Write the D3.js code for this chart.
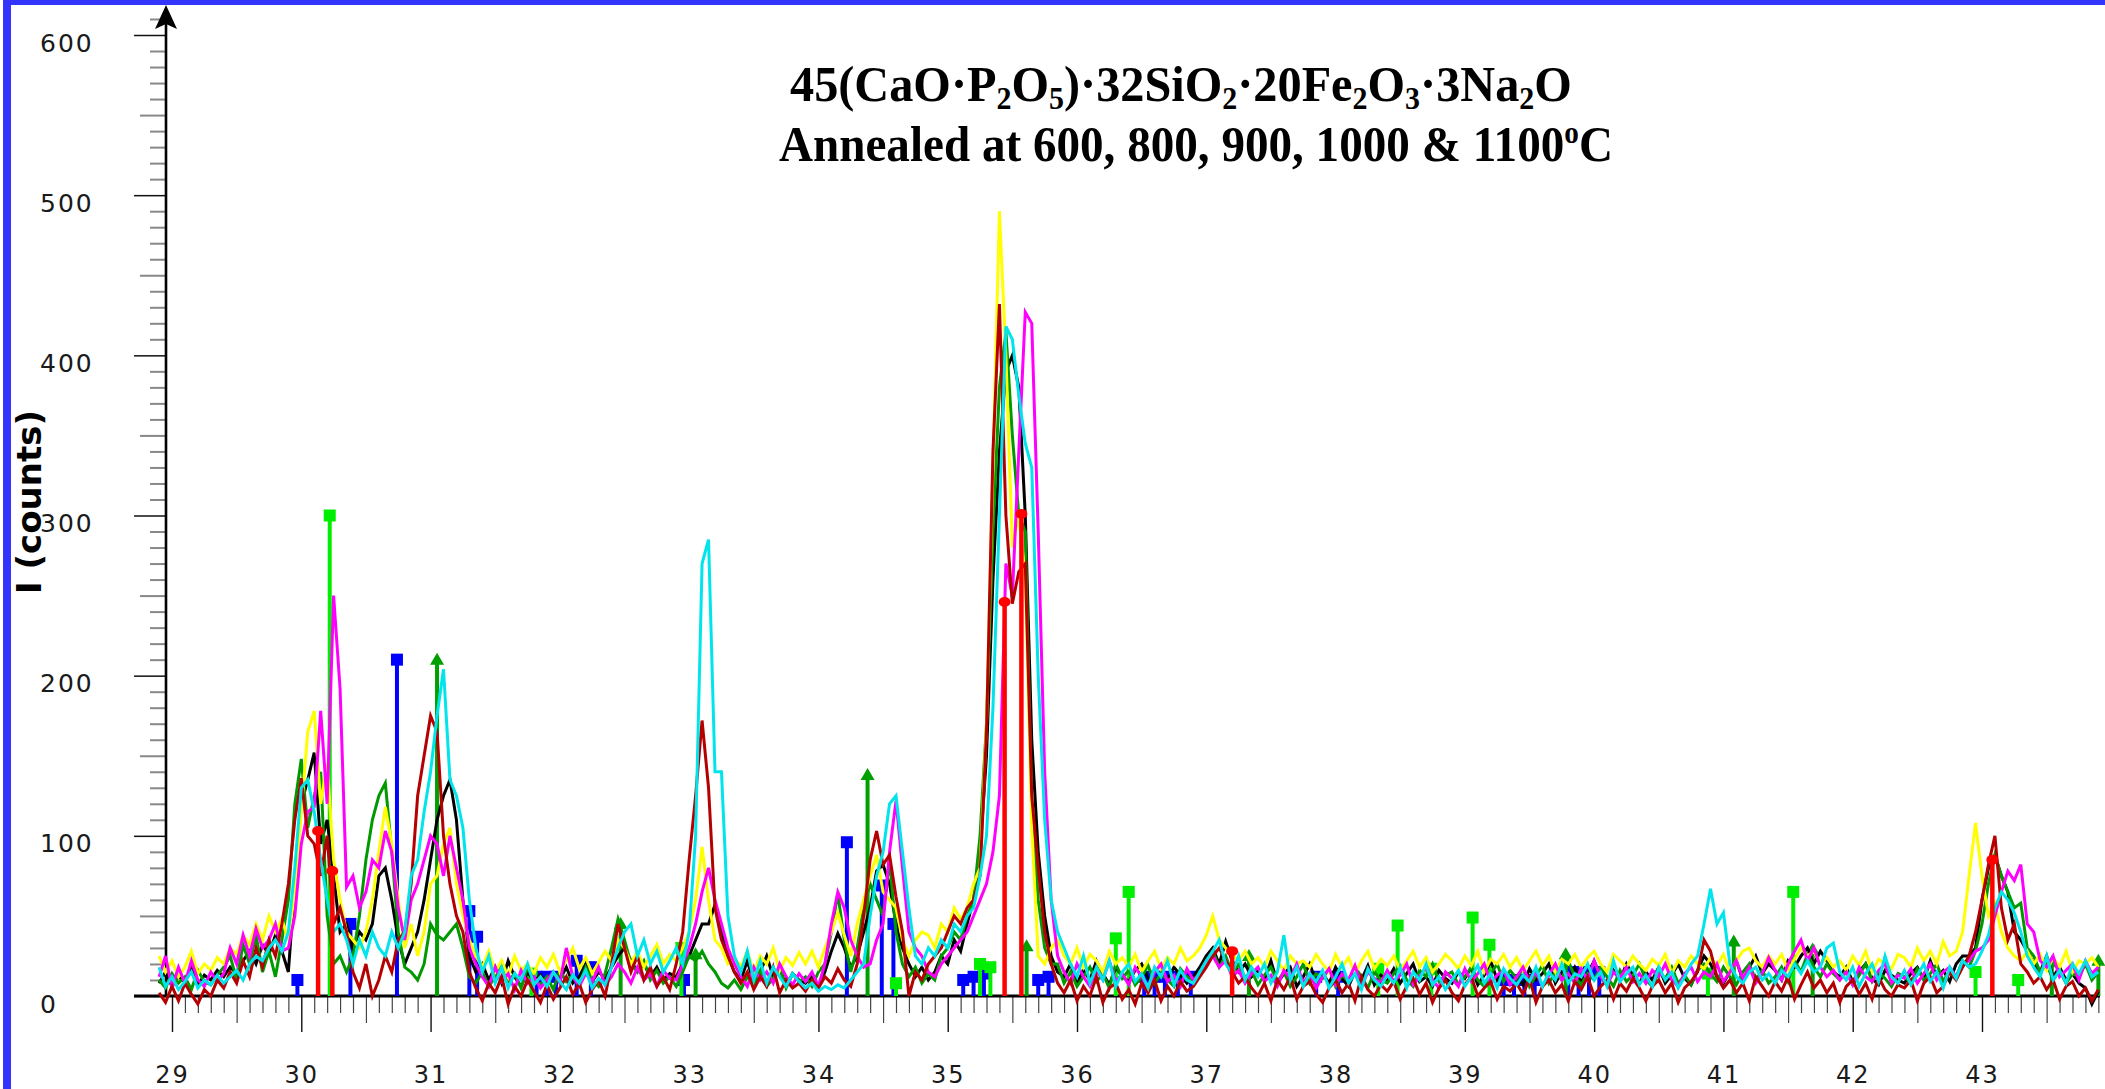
<!DOCTYPE html>
<html><head><meta charset="utf-8">
<script src="https://cdn.jsdelivr.net/npm/d3@7"></script>
<style>html,body{margin:0;padding:0;background:#fff;overflow:hidden}</style>
</head><body>
<svg id="chart" width="2105" height="1089"></svg>
<script>
// ---------- data ----------
const thetaStart = 28.90;   // 2-theta of first point
const thetaStep = 0.05;     // step between points
const xTickLabels = [29,30,31,32,33,34,35,36,37,38,39,40,41,42,43];
const yTickLabels = [0,100,200,300,400,500,600];

const black = [
8,15,6,12,9,18,7,13,10,16,
12,18,14,22,28,20,32,26,38,28,
15,70,120,135,152,95,110,75,40,45,
30,40,35,45,75,80,60,35,20,30,
40,60,85,110,125,135,110,60,25,15,
20,10,18,8,22,12,6,15,9,13,
7,14,10,18,8,12,20,9,15,11,
18,25,30,22,15,20,12,18,10,14,
12,20,25,35,45,45,57,40,25,15,
10,22,8,15,25,12,18,6,14,10,
8,12,6,15,28,39,30,18,25,40,
55,78,82,70,45,30,20,12,18,10,
15,25,20,35,28,45,60,90,150,260,
340,390,400,380,300,160,90,50,25,15,
12,20,8,16,10,22,14,7,18,12,
9,16,20,11,7,15,10,18,13,8,
12,18,25,30,20,34,22,15,20,12,
16,10,22,8,14,18,6,12,20,9,
14,8,18,11,6,15,10,19,7,13,
10,17,8,14,20,9,12,6,16,11,
8,15,11,18,7,13,22,10,16,9,
12,7,17,10,14,20,8,15,11,18,
9,14,22,12,7,16,10,20,13,8,
15,10,18,8,13,20,11,7,16,25,
20,12,8,15,22,10,18,25,14,20,
16,10,22,18,25,30,20,28,22,15,
12,18,9,15,20,11,7,16,13,10,
8,14,18,10,22,12,16,9,20,25,
25,30,60,80,88,75,65,40,35,28,
20,15,25,12,18,10,14,8,5,-5,
3];

const green = [
10,5,14,8,12,4,16,9,7,13,
18,25,10,32,20,38,15,28,12,35,
60,120,148,105,125,140,50,20,25,15,
25,50,85,110,125,133,90,40,18,15,
10,20,45,38,35,40,45,30,12,8,
15,6,12,20,9,14,5,18,10,7,
12,4,16,9,13,7,18,10,6,14,
30,48,35,20,15,22,10,16,8,12,
6,15,25,22,28,20,15,8,5,10,
4,12,8,16,6,11,18,5,14,9,
12,6,15,20,40,64,35,15,30,55,
70,60,50,85,40,20,12,18,8,14,
10,25,30,40,35,50,60,100,170,290,
380,415,350,300,290,120,60,30,20,20,
8,15,6,12,18,9,14,5,20,11,
16,7,12,19,8,14,10,6,17,12,
9,15,22,28,18,25,14,20,10,16,
7,13,18,9,15,6,12,20,8,14,
11,17,6,13,9,18,12,5,15,10,
8,14,19,10,6,16,12,20,9,13,
15,7,12,18,10,6,14,20,9,16,
11,17,6,13,19,8,15,10,22,12,
7,14,10,18,12,6,16,9,13,20,
10,6,15,11,18,8,13,7,16,20,
14,9,18,12,7,15,20,10,16,8,
12,18,9,22,15,26,18,12,20,14,
10,16,7,13,20,9,15,11,6,14,
12,8,17,10,14,20,9,16,12,22,
18,28,45,70,88,75,65,55,58,30,
25,15,20,10,16,8,14,12,20,10,
15];

const yellow = [
25,15,22,12,18,28,14,20,16,24,
20,30,26,38,32,45,35,50,40,48,
35,65,115,165,178,120,145,85,60,40,
35,30,40,60,90,118,95,60,30,45,
25,40,70,75,95,105,70,50,35,25,
18,28,15,22,12,25,16,20,14,24,
18,26,15,22,30,17,24,14,21,28,
22,35,30,20,28,18,25,32,20,26,
22,30,40,60,93,60,35,30,20,24,
18,28,15,25,20,30,16,24,19,27,
20,28,18,30,40,52,38,25,45,60,
75,88,65,60,55,35,25,35,40,38,
30,45,40,55,48,55,70,80,170,330,
490,400,280,300,260,105,25,20,30,35,
25,20,30,18,26,22,15,28,20,24,
18,26,15,22,28,17,24,20,30,22,
25,30,38,50,35,30,26,22,28,20,
24,18,28,22,16,25,20,22,18,26,
20,15,26,18,24,14,22,28,17,23,
19,25,16,22,28,18,24,15,20,26,
22,17,25,19,28,15,23,20,26,18,
24,16,22,28,19,25,15,23,20,26,
18,24,28,20,15,26,22,18,25,20,
16,23,19,26,14,22,18,25,20,17,
24,19,26,15,22,28,30,22,18,25,
20,26,16,23,30,25,28,20,24,18,
22,16,25,19,28,15,23,20,17,26,
24,18,30,22,28,20,34,25,28,40,
75,108,75,50,58,40,30,25,22,28,
20,26,16,24,18,28,15,22,20,24,
18];

const magenta = [
12,25,5,18,8,22,10,6,15,9,
14,30,20,38,25,42,30,35,45,28,
30,50,95,115,118,178,120,250,192,68,
75,55,65,85,80,103,90,55,35,60,
70,85,100,95,75,100,80,60,30,20,
12,6,18,9,14,4,16,8,12,5,
10,15,8,30,12,6,14,9,18,7,
12,20,15,8,18,10,14,6,16,11,
10,20,30,45,65,80,60,45,30,20,
12,6,18,10,15,8,20,12,7,14,
9,15,6,20,45,65,55,35,25,18,
20,35,45,90,122,80,40,30,25,15,
12,20,25,30,35,40,50,60,70,90,
125,270,250,340,427,420,290,140,60,25,
15,8,20,12,6,16,10,22,9,14,
7,18,12,5,15,20,9,13,6,17,
10,14,20,25,18,22,12,16,8,14,
18,9,13,6,16,11,20,8,14,5,
12,17,7,14,10,19,6,15,11,8,
16,9,13,20,7,12,18,10,5,15,
11,6,17,9,14,20,8,13,16,7,
12,18,9,15,6,13,20,10,14,8,
17,10,22,12,7,15,11,18,9,14,
8,16,12,20,10,6,14,18,9,15,
12,20,9,15,22,11,18,8,14,24,
16,10,20,28,35,22,30,18,12,16,
10,15,7,18,12,9,16,20,8,13,
11,17,8,14,20,10,15,18,12,20,
22,28,30,35,50,65,78,72,82,45,
40,22,18,25,12,16,20,10,22,14,
18];

const darkRed = [
2,-4,6,-3,8,1,-5,4,0,10,
5,15,8,22,12,30,18,35,25,45,
70,110,136,100,95,75,100,45,55,40,
15,5,20,0,10,25,15,35,40,70,
125,150,175,165,100,70,50,40,15,5,
-3,8,2,12,-5,6,0,10,3,-4,
7,-2,5,12,1,8,-4,4,10,0,
20,45,30,15,25,10,18,6,12,4,
20,40,85,125,172,130,55,35,25,15,
8,15,4,12,6,18,2,10,5,8,
3,10,5,12,8,17,10,6,20,50,
85,103,82,88,62,40,0,15,10,20,
25,30,40,50,45,55,60,75,165,340,
432,300,245,265,270,125,80,40,20,8,
2,10,-3,6,0,12,-4,5,8,-2,
4,-5,8,2,10,-3,6,0,9,3,
6,12,18,25,30,22,15,8,12,5,
0,8,-3,10,4,12,-2,6,9,1,
-4,5,10,2,8,-3,12,4,0,7,
3,9,-2,6,11,1,8,-4,5,10,
2,-3,7,12,0,5,9,-2,6,3,
8,1,11,-4,6,10,2,7,-3,9,
4,12,0,6,10,-2,8,3,11,5,
-3,6,10,2,8,-4,5,9,15,35,
28,12,5,10,2,8,-3,12,6,0,
9,3,12,-2,7,15,5,10,2,8,
-4,6,10,1,8,-2,12,4,0,7,
5,10,-3,8,12,2,6,15,10,18,
25,40,60,82,100,55,35,45,20,15,
8,12,4,10,-2,6,9,0,5,-3,
4];

const cyan = [
18,6,12,4,9,15,5,10,7,13,
8,12,16,10,20,25,22,30,35,28,
40,80,130,135,115,85,60,40,45,35,
20,35,25,40,30,25,40,30,40,75,
85,115,140,175,204,135,125,105,60,30,
15,25,8,18,5,14,10,20,7,12,
6,15,9,4,13,8,16,5,11,7,
18,30,40,45,25,35,20,28,15,22,
30,20,40,100,270,285,140,140,50,25,
15,28,10,22,8,18,12,6,14,9,
5,8,3,6,4,7,5,10,15,20,
50,75,90,120,125,90,55,25,20,30,
25,35,30,45,40,50,55,75,100,180,
300,418,410,375,345,330,200,110,60,40,
30,20,12,25,8,18,10,22,6,15,
20,9,14,5,18,12,22,7,16,10,
8,15,22,28,35,20,14,25,10,18,
12,20,8,15,38,10,18,6,14,9,
16,5,12,20,8,14,4,17,10,6,
13,8,18,5,15,10,20,7,12,4,
10,16,6,12,19,8,14,5,17,11,
7,13,9,18,6,15,10,20,8,14,
12,20,10,15,6,22,9,14,18,7,
13,6,18,10,15,5,12,20,25,45,
67,45,52,20,12,8,15,18,10,14,
8,16,12,20,14,22,15,18,30,33,
15,10,18,6,14,20,9,25,12,8,
16,7,13,20,9,15,5,18,11,22,
18,20,28,38,55,65,60,52,40,25,
18,12,25,10,16,8,20,14,22,12,
15];

// reference patterns (stick positions / intensities)
const redPos = [30.13, 30.24, 35.44, 35.57, 37.20, 43.08];
const redInt = [103, 78, 246, 301, 28, 85];
const limePos = [30.22, 31.78, 32.94, 34.60, 35.25, 35.33, 36.30, 36.40, 38.33, 38.48, 38.74, 39.06, 39.19, 40.88, 41.54, 42.95, 43.28];
const limeInt = [300, 14, 30, 8, 20, 18, 36, 65, 17, 44, 17, 49, 32, 14, 65, 15, 10];
const bluePos = [29.97, 30.38, 30.74, 31.30, 31.36, 31.82, 31.90, 31.97, 32.13, 32.24, 32.96, 34.22, 34.49, 34.58, 35.12, 35.20, 35.28, 35.70, 35.78, 36.52, 36.60, 36.68, 36.78, 36.88, 37.85, 38.02, 39.30, 39.38, 39.46, 39.54, 39.80, 39.88, 39.96, 40.04];
const blueInt = [10, 45, 210, 53, 37, 12, 12, 12, 22, 18, 10, 96, 69, 45, 10, 12, 14, 10, 12, 12, 12, 12, 12, 12, 12, 12, 10, 10, 10, 10, 15, 15, 15, 15];
const olivePos = [31.05, 32.47, 33.05, 34.38, 35.61, 37.33, 39.78, 41.08, 41.69, 43.54, 43.90];
const oliveInt = [210, 45, 26, 138, 31, 25, 26, 34, 29, 21, 22];

// ---------- drawing ----------
const W = 2105, H = 1089;
const svg = d3.select('#chart');
svg.append('rect').attr('width', W).attr('height', H).attr('fill', '#fff');

const x = d3.scaleLinear().domain([29, 43]).range([172, 1982]);
const y = d3.scaleLinear().domain([0, 600]).range([996, 35]);

// blue frame
svg.append('rect').attr('x', 3).attr('y', 0).attr('width', 8).attr('height', H).attr('fill', '#3434ff');
svg.append('rect').attr('x', 3).attr('y', 0).attr('width', W - 3).attr('height', 5).attr('fill', '#3434ff');

// ---- X axis ticks ----
const allX = d3.range(290, 440).map(d => d / 10);
const xMinor = allX.filter(d => Math.round(d * 10) % 5 !== 0);
const xHalf = allX.filter(d => Math.round(d * 10) % 10 === 5);
const gx = svg.append('g').attr('transform', 'translate(0,996)');
function styleAxis(g, color, width) {
  g.select('.domain').remove();
  g.selectAll('.tick line').attr('stroke', color).attr('stroke-width', width);
}
gx.append('g').call(d3.axisBottom(x).tickValues(xMinor).tickSize(17).tickFormat('')).call(g => styleAxis(g, '#444', 1.2));
gx.append('g').call(d3.axisBottom(x).tickValues(xHalf).tickSize(27).tickFormat('')).call(g => styleAxis(g, '#444', 1.2));
const gxMaj = gx.append('g').call(d3.axisBottom(x).tickValues(xTickLabels).tickSize(36).tickFormat(d3.format('d')))
  .call(g => styleAxis(g, '#111', 1.4));
gxMaj.selectAll('.tick text').attr('y', 87).attr('dy', 0)
  .attr('font-family', '"DejaVu Sans", Verdana, sans-serif').attr('font-size', 24)
  .attr('letter-spacing', 2).attr('fill', '#1a1a1a');

// ---- Y axis ticks ----
const allY = d3.range(10, 620, 10);
const yMinor = allY.filter(d => d % 50 !== 0);
const yHalf = allY.filter(d => d % 100 === 50);
const gy = svg.append('g').attr('transform', 'translate(166,0)');
gy.append('g').call(d3.axisLeft(y).tickValues(yMinor).tickSize(16).tickFormat('')).call(g => styleAxis(g, '#888', 2));
gy.append('g').call(d3.axisLeft(y).tickValues(yHalf).tickSize(26).tickFormat('')).call(g => styleAxis(g, '#888', 2));
const gyMaj = gy.append('g').call(d3.axisLeft(y).tickValues(yTickLabels).tickSize(32).tickFormat(d3.format('d')))
  .call(g => styleAxis(g, '#111', 1.5));
gyMaj.selectAll('.tick text').attr('x', -126).attr('dy', 16).attr('text-anchor', 'start')
  .attr('font-family', '"DejaVu Sans", Verdana, sans-serif').attr('font-size', 25)
  .attr('letter-spacing', 2).attr('fill', '#1a1a1a');

// baseline and y axis line
svg.append('line').attr('x1', 134).attr('x2', 2100).attr('y1', y(0)).attr('y2', y(0))
  .attr('stroke', '#000').attr('stroke-width', 3);
svg.append('line').attr('x1', 166).attr('x2', 166).attr('y1', y(0) + 1).attr('y2', 20)
  .attr('stroke', '#000').attr('stroke-width', 2.6);
svg.append('path').attr('d', 'M166,5 L177,29 L166,24 L155,29 Z').attr('fill', '#000');

// ---- stick patterns (under curves) ----
function sticks(pos, val, color, shape, width) {
  const g = svg.append('g');
  pos.forEach((p, i) => {
    g.append('line').attr('x1', x(p)).attr('x2', x(p)).attr('y1', y(0)).attr('y2', y(val[i]))
      .attr('stroke', color).attr('stroke-width', width);
    if (shape === 'square') {
      g.append('rect').attr('x', x(p) - 6).attr('y', y(val[i]) - 6).attr('width', 12).attr('height', 12).attr('fill', color);
    } else if (shape === 'triangle') {
      const cx = x(p), cy = y(val[i]);
      g.append('path').attr('d', `M${cx},${cy - 7} L${cx + 7},${cy + 5} L${cx - 7},${cy + 5} Z`).attr('fill', color);
    } else if (shape === 'circle') {
      g.append('ellipse').attr('cx', x(p)).attr('cy', y(val[i])).attr('rx', 6).attr('ry', 5).attr('fill', color);
    }
  });
}
sticks(bluePos, blueInt, '#0000ff', 'square', 4);
sticks(limePos, limeInt, '#00ee00', 'square', 4);
sticks(olivePos, oliveInt, '#00a000', 'triangle', 4);

// ---- diffraction curves ----
const series = [
  { name: 'black', color: '#000000', values: black },
  { name: 'green', color: '#009a00', values: green },
  { name: 'yellow', color: '#ffff00', values: yellow },
  { name: 'magenta', color: '#ff00ff', values: magenta },
  { name: 'darkRed', color: '#b40000', values: darkRed },
  { name: 'cyan', color: '#00e4ec', values: cyan }
];
const line = d3.line().x((d, i) => x(thetaStart + i * thetaStep)).y(d => y(d));
svg.append('g').selectAll('path').data(series).join('path')
  .attr('d', d => line(d.values)).attr('fill', 'none')
  .attr('stroke', d => d.color).attr('stroke-width', 3).attr('stroke-linejoin', 'miter');

sticks(redPos, redInt, '#ff0000', 'circle', 4.5);

// ---- title ----
function titleLine(parts, left, width, baseline, size) {
  const g = svg.append('g');
  const t = g.append('text').attr('font-family', '"Liberation Serif","Times New Roman",serif')
    .attr('font-weight', 'bold').attr('font-size', size).attr('fill', '#000');
  let cur = 0;
  parts.forEach(p => {
    const off = p.s === 'sub' ? size * 0.16 : p.s === 'sup' ? -size * 0.36 : 0;
    const ts = t.append('tspan').text(p.t);
    if (off - cur !== 0) ts.attr('dy', off - cur);
    if (p.s) ts.attr('font-size', size * 0.62);
    cur = off;
  });
  const w = t.node().getComputedTextLength();
  g.attr('transform', `translate(${left},${baseline}) scale(${width / w},1)`);
}
titleLine([{ t: '45(CaO·P' }, { t: '2', s: 'sub' }, { t: 'O' }, { t: '5', s: 'sub' }, { t: ')·32SiO' }, { t: '2', s: 'sub' },
  { t: '·20Fe' }, { t: '2', s: 'sub' }, { t: 'O' }, { t: '3', s: 'sub' }, { t: '·3Na' }, { t: '2', s: 'sub' }, { t: 'O' }],
  790, 782, 101, 50);
titleLine([{ t: 'Annealed at 600, 800, 900, 1000 & 1100' }, { t: 'o', s: 'sup' }, { t: 'C' }], 779, 834, 161, 50);

// ---- y label ----
svg.append('text').attr('transform', 'translate(41,502) rotate(-90)').attr('text-anchor', 'middle')
  .attr('font-family', '"DejaVu Sans", Arial, sans-serif').attr('font-weight', 'bold').attr('font-size', 34)
  .attr('fill', '#000').text('I (counts)');
</script>
</body></html>
